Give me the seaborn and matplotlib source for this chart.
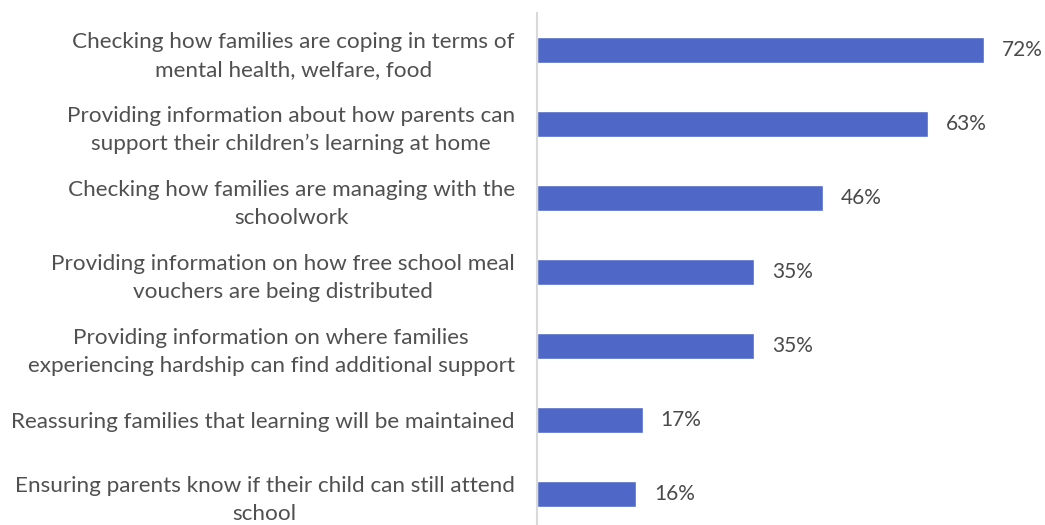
import matplotlib
matplotlib.use("Agg")
import matplotlib.pyplot as plt
import seaborn as sns
import pandas as pd

# Survey responses (share of schools, %)
labels = [
    "Checking how families are coping in terms of\nmental health, welfare, food",
    "Providing information about how parents can\nsupport their children\u2019s learning at home",
    "Checking how families are managing with the\nschoolwork",
    "Providing information on how free school meal\nvouchers are being distributed",
    "Providing information on where families\nexperiencing hardship can find additional support",
    "Reassuring families that learning will be maintained",
    "Ensuring parents know if their child can still attend\nschool",
]
values = [72, 63, 46, 35, 35, 17, 16]

df = pd.DataFrame({"label": labels, "value": values})

sns.set_theme(style="white")
plt.rcParams["font.family"] = ["Lato", "DejaVu Sans"]

fig = plt.figure(figsize=(10.45, 5.25), dpi=100)
ax = fig.add_axes([537 / 1045, -6 / 525, 503 / 1045, 518 / 525])

sns.barplot(data=df, x="value", y="label", orient="h", color="#4F68C8",
            saturation=1, width=0.35, ax=ax)

ax.bar_label(ax.containers[0], labels=[f"{v}%" for v in values], padding=13,
             fontsize=15, color="#4A4A4A")

ax.set_xlim(0, 81)
ax.set_xlabel("")
ax.set_ylabel("")
ax.set_xticks([])
ax.tick_params(axis="y", length=0, pad=16, labelsize=16.2, labelcolor="#505050")
for t in ax.get_yticklabels():
    t.set_horizontalalignment("right")
    t.set_multialignment("center")
    t.set_linespacing(1.5)

for sp in ["top", "right", "bottom"]:
    ax.spines[sp].set_visible(False)
ax.spines["left"].set_color("#D9D9D9")
ax.spines["left"].set_linewidth(1.5)

plt.savefig("out.png", dpi=100)
